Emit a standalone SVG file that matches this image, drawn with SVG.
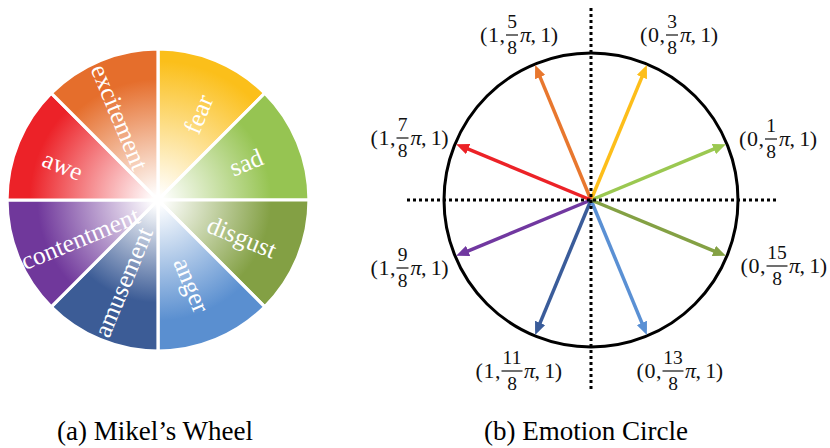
<svg xmlns="http://www.w3.org/2000/svg" width="830" height="448" viewBox="0 0 830 448">
<style>
.lbl{font-family:"Liberation Serif","Times New Roman",serif;font-size:25.5px;fill:#fff;text-anchor:middle}
.cap{font-family:"Liberation Serif","Times New Roman",serif;font-size:27px;fill:#000}
.m{font-family:"Liberation Serif","Times New Roman",serif;font-size:22px;fill:#111}
.f{font-family:"Liberation Serif","Times New Roman",serif;font-size:19.5px;fill:#111;text-anchor:middle}
.bar{stroke:#111;stroke-width:1.2}
.sec{stroke:#fff;stroke-width:3.2;stroke-linejoin:round}
.dot{stroke:#000;stroke-width:3;stroke-dasharray:3 3;fill:none}
.arr{stroke-width:3.5;fill:none}
</style>
<defs>
<radialGradient id="gFear" gradientUnits="userSpaceOnUse" cx="158" cy="200" r="151"><stop offset="0.03" stop-color="#fff"/><stop offset="0.92" stop-color="#FBBF1A"/></radialGradient>
<radialGradient id="gSad" gradientUnits="userSpaceOnUse" cx="158" cy="200" r="151"><stop offset="0.03" stop-color="#fff"/><stop offset="0.75" stop-color="#96C452"/></radialGradient>
<radialGradient id="gDis" gradientUnits="userSpaceOnUse" cx="158" cy="200" r="151"><stop offset="0.03" stop-color="#fff"/><stop offset="0.75" stop-color="#83A044"/></radialGradient>
<radialGradient id="gAng" gradientUnits="userSpaceOnUse" cx="158" cy="200" r="151"><stop offset="0.03" stop-color="#fff"/><stop offset="0.8" stop-color="#5A8FD0"/></radialGradient>
<radialGradient id="gAmu" gradientUnits="userSpaceOnUse" cx="158" cy="200" r="151"><stop offset="0.03" stop-color="#fff"/><stop offset="0.68" stop-color="#3C5C96"/></radialGradient>
<radialGradient id="gCon" gradientUnits="userSpaceOnUse" cx="158" cy="200" r="151"><stop offset="0.03" stop-color="#fff"/><stop offset="0.8" stop-color="#70389B"/></radialGradient>
<radialGradient id="gAwe" gradientUnits="userSpaceOnUse" cx="158" cy="200" r="151"><stop offset="0.03" stop-color="#fff"/><stop offset="0.85" stop-color="#EC2228"/></radialGradient>
<radialGradient id="gExc" gradientUnits="userSpaceOnUse" cx="158" cy="200" r="151"><stop offset="0.03" stop-color="#fff"/><stop offset="0.8" stop-color="#E56E2C"/></radialGradient>
<marker id="mG" markerUnits="userSpaceOnUse" markerWidth="14" markerHeight="11" refX="3" refY="5.5" orient="auto"><path d="M0,0 L13,5.5 L0,11 z" fill="#9BC851"/></marker>
<marker id="mY" markerUnits="userSpaceOnUse" markerWidth="14" markerHeight="11" refX="3" refY="5.5" orient="auto"><path d="M0,0 L13,5.5 L0,11 z" fill="#FDBE1A"/></marker>
<marker id="mO" markerUnits="userSpaceOnUse" markerWidth="14" markerHeight="11" refX="3" refY="5.5" orient="auto"><path d="M0,0 L13,5.5 L0,11 z" fill="#E8772E"/></marker>
<marker id="mR" markerUnits="userSpaceOnUse" markerWidth="14" markerHeight="11" refX="3" refY="5.5" orient="auto"><path d="M0,0 L13,5.5 L0,11 z" fill="#EC2227"/></marker>
<marker id="mP" markerUnits="userSpaceOnUse" markerWidth="14" markerHeight="11" refX="3" refY="5.5" orient="auto"><path d="M0,0 L13,5.5 L0,11 z" fill="#7138A0"/></marker>
<marker id="mD" markerUnits="userSpaceOnUse" markerWidth="14" markerHeight="11" refX="3" refY="5.5" orient="auto"><path d="M0,0 L13,5.5 L0,11 z" fill="#3A5C9A"/></marker>
<marker id="mL" markerUnits="userSpaceOnUse" markerWidth="14" markerHeight="11" refX="3" refY="5.5" orient="auto"><path d="M0,0 L13,5.5 L0,11 z" fill="#5A90D4"/></marker>
<marker id="mV" markerUnits="userSpaceOnUse" markerWidth="14" markerHeight="11" refX="3" refY="5.5" orient="auto"><path d="M0,0 L13,5.5 L0,11 z" fill="#84A144"/></marker>
</defs>
<rect width="830" height="448" fill="#fff"/>
<g id="wheel">
<g id="fear"><path class="sec" fill="url(#gFear)" d="M158,200 L158,49 A151,151 0 0 1 264.77,93.23 Z"/><text class="lbl" dy=".35em" transform="translate(198,114) rotate(-67.5)">fear</text></g>
<g id="sad"><path class="sec" fill="url(#gSad)" d="M158,200 L264.77,93.23 A151,151 0 0 1 309,200 Z"/><text class="lbl" dy=".35em" transform="translate(246,162) rotate(-22.5)">sad</text></g>
<g id="disgust"><path class="sec" fill="url(#gDis)" d="M158,200 L309,200 A151,151 0 0 1 264.77,306.77 Z"/><text class="lbl" dy=".35em" transform="translate(242,237) rotate(22.5)">disgust</text></g>
<g id="anger"><path class="sec" fill="url(#gAng)" d="M158,200 L264.77,306.77 A151,151 0 0 1 158,351 Z"/><text class="lbl" dy=".35em" transform="translate(192,285) rotate(67.5)">anger</text></g>
<g id="amusement"><path class="sec" fill="url(#gAmu)" d="M158,200 L158,351 A151,151 0 0 1 51.23,306.77 Z"/><text class="lbl" dy=".35em" transform="translate(123,282) rotate(-67.5)">amusement</text></g>
<g id="contentment"><path class="sec" fill="url(#gCon)" d="M158,200 L51.23,306.77 A151,151 0 0 1 7,200 Z"/><text class="lbl" dy=".35em" transform="translate(80,238) rotate(-22.5)">contentment</text></g>
<g id="awe"><path class="sec" fill="url(#gAwe)" d="M158,200 L7,200 A151,151 0 0 1 51.23,93.23 Z"/><text class="lbl" dy=".35em" transform="translate(63,165) rotate(22.5)">awe</text></g>
<g id="excitement"><path class="sec" fill="url(#gExc)" d="M158,200 L51.23,93.23 A151,151 0 0 1 158,49 Z"/><text class="lbl" dy=".35em" transform="translate(120,117) rotate(67.5)">excitement</text></g>
</g>
<g id="circle">
<circle cx="591" cy="200" r="147" fill="none" stroke="#000" stroke-width="3"/>
</g>
<g id="connectors">
<line class="arr" stroke="#9BC851" x1="591" y1="200" x2="716.65" y2="147.96" marker-end="url(#mG)"/>
<line class="arr" stroke="#FDBE1A" x1="591" y1="200" x2="643.04" y2="74.35" marker-end="url(#mY)"/>
<line class="arr" stroke="#E8772E" x1="591" y1="200" x2="538.96" y2="74.35" marker-end="url(#mO)"/>
<line class="arr" stroke="#EC2227" x1="591" y1="200" x2="465.35" y2="147.96" marker-end="url(#mR)"/>
<line class="arr" stroke="#7138A0" x1="591" y1="200" x2="465.35" y2="252.04" marker-end="url(#mP)"/>
<line class="arr" stroke="#3A5C9A" x1="591" y1="200" x2="538.96" y2="325.65" marker-end="url(#mD)"/>
<line class="arr" stroke="#5A90D4" x1="591" y1="200" x2="643.04" y2="325.65" marker-end="url(#mL)"/>
<line class="arr" stroke="#84A144" x1="591" y1="200" x2="716.65" y2="252.04" marker-end="url(#mV)"/>
<line class="dot" x1="591" y1="8" x2="591" y2="392"/>
<line class="dot" x1="407" y1="200" x2="779" y2="200"/>
</g>
<g id="label-5-8">
<text class="m" x="505" y="42" text-anchor="end" textLength="25">(1,</text>
<text class="f" x="512" y="28">5</text><line class="bar" x1="506" y1="35" x2="518" y2="35"/><text class="f" x="512" y="54">8</text>
<text class="m" x="520" y="42" textLength="38"><tspan font-style="italic">π</tspan>, 1)</text>
</g>
<g id="label-3-8">
<text class="m" x="665" y="42" text-anchor="end" textLength="25">(0,</text>
<text class="f" x="672" y="28">3</text><line class="bar" x1="666" y1="35" x2="678" y2="35"/><text class="f" x="672" y="54">8</text>
<text class="m" x="680" y="42" textLength="38"><tspan font-style="italic">π</tspan>, 1)</text>
</g>
<g id="label-1-8">
<text class="m" x="764" y="146" text-anchor="end" textLength="25">(0,</text>
<text class="f" x="771" y="132">1</text><line class="bar" x1="765" y1="139" x2="777" y2="139"/><text class="f" x="771" y="158">8</text>
<text class="m" x="779" y="146" textLength="38"><tspan font-style="italic">π</tspan>, 1)</text>
</g>
<g id="label-15-8">
<text class="m" x="765.5" y="273" text-anchor="end" textLength="25">(0,</text>
<text class="f" x="777" y="259">15</text><line class="bar" x1="766.5" y1="266" x2="787.5" y2="266"/><text class="f" x="777" y="285">8</text>
<text class="m" x="789" y="273" textLength="38"><tspan font-style="italic">π</tspan>, 1)</text>
</g>
<g id="label-7-8">
<text class="m" x="395.5" y="145" text-anchor="end" textLength="25">(1,</text>
<text class="f" x="402.5" y="131">7</text><line class="bar" x1="396.5" y1="138" x2="408.5" y2="138"/><text class="f" x="402.5" y="157">8</text>
<text class="m" x="410.5" y="145" textLength="38"><tspan font-style="italic">π</tspan>, 1)</text>
</g>
<g id="label-9-8">
<text class="m" x="395.5" y="275" text-anchor="end" textLength="25">(1,</text>
<text class="f" x="402.5" y="261">9</text><line class="bar" x1="396.5" y1="268" x2="408.5" y2="268"/><text class="f" x="402.5" y="287">8</text>
<text class="m" x="410.5" y="275" textLength="38"><tspan font-style="italic">π</tspan>, 1)</text>
</g>
<g id="label-11-8">
<text class="m" x="500.5" y="378" text-anchor="end" textLength="25">(1,</text>
<text class="f" x="512" y="364">11</text><line class="bar" x1="501.5" y1="371" x2="522.5" y2="371"/><text class="f" x="512" y="390">8</text>
<text class="m" x="524" y="378" textLength="38"><tspan font-style="italic">π</tspan>, 1)</text>
</g>
<g id="label-13-8">
<text class="m" x="661.5" y="378" text-anchor="end" textLength="25">(0,</text>
<text class="f" x="673" y="364">13</text><line class="bar" x1="662.5" y1="371" x2="683.5" y2="371"/><text class="f" x="673" y="390">8</text>
<text class="m" x="685" y="378" textLength="38"><tspan font-style="italic">π</tspan>, 1)</text>
</g>
<g id="captions">
<text class="cap" x="57" y="440">(a) Mikel’s Wheel</text>
<text class="cap" x="484" y="440">(b) Emotion Circle</text>
</g>
</svg>
